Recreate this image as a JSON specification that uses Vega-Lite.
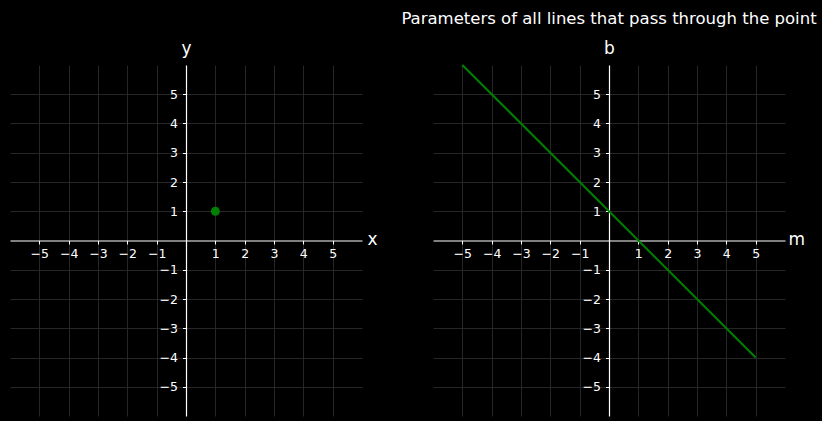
{
  "$schema": "https://vega.github.io/schema/vega-lite/v6.json",
  "background": "black",
  "padding": {"left": 10, "top": 10, "right": 5, "bottom": 5},
  "spacing": 71,
  "bounds": "flush",
  "config": {
    "view": {"stroke": null},
    "font": "DejaVu Sans",
    "axis": {
      "domainColor": "white",
      "domainWidth": 1.2,
      "tickColor": "white",
      "tickSize": 3.5,
      "tickWidth": 1,
      "labelColor": "white",
      "labelFont": "DejaVu Sans",
      "labelFontSize": 12.5,
      "gridColor": "#262626",
      "gridWidth": 1,
      "titleColor": "white",
      "titleFont": "DejaVu Sans",
      "titleFontSize": 17,
      "titleFontWeight": "normal",
      "labelFlush": false,
      "labelOverlap": false
    }
  },
  "hconcat": [
    {
      "width": 352,
      "height": 351,
      "data": {"values": [{"x": 1, "y": 1}]},
      "mark": {"type": "circle", "size": 80, "color": "#008000", "opacity": 1},
      "encoding": {
        "x": {
          "field": "x", "type": "quantitative",
          "scale": {"domain": [-6, 6], "nice": false, "zero": false},
          "axis": {
            "values": [-5, -4, -3, -2, -1, 1, 2, 3, 4, 5],
            "offset": -175.5,
            "title": "x",
            "titleAngle": 0, "titleAlign": "left", "titleBaseline": "middle",
            "titleX": 357, "titleY": -1,
            "labelPadding": 3
          }
        },
        "y": {
          "field": "y", "type": "quantitative",
          "scale": {"domain": [-6, 6], "nice": false, "zero": false},
          "axis": {
            "values": [-5, -4, -3, -2, -1, 1, 2, 3, 4, 5],
            "offset": -176,
            "title": "y",
            "titleAngle": 0, "titleAlign": "center", "titleBaseline": "alphabetic",
            "titleX": 0, "titleY": -12,
            "labelPadding": 5
          }
        }
      }
    },
    {
      "width": 352,
      "height": 351,
      "title": {
        "text": "Parameters of all lines that pass through the point",
        "color": "white",
        "font": "DejaVu Sans",
        "fontSize": 16.5,
        "fontWeight": "normal",
        "anchor": "middle",
        "frame": "group",
        "baseline": "alphabetic",
        "offset": -1
      },
      "data": {"values": [{"m": -5, "b": 6}, {"m": 5, "b": -4}]},
      "mark": {"type": "line", "color": "#008000", "strokeWidth": 2},
      "encoding": {
        "x": {
          "field": "m", "type": "quantitative",
          "scale": {"domain": [-6, 6], "nice": false, "zero": false},
          "axis": {
            "values": [-5, -4, -3, -2, -1, 1, 2, 3, 4, 5],
            "offset": -175.5,
            "title": "m",
            "titleAngle": 0, "titleAlign": "left", "titleBaseline": "middle",
            "titleX": 355, "titleY": -1,
            "labelPadding": 3
          }
        },
        "y": {
          "field": "b", "type": "quantitative",
          "scale": {"domain": [-6, 6], "nice": false, "zero": false},
          "axis": {
            "values": [-5, -4, -3, -2, -1, 1, 2, 3, 4, 5],
            "offset": -176,
            "title": "b",
            "titleAngle": 0, "titleAlign": "center", "titleBaseline": "alphabetic",
            "titleX": 0, "titleY": -12,
            "labelPadding": 5
          }
        }
      }
    }
  ]
}
